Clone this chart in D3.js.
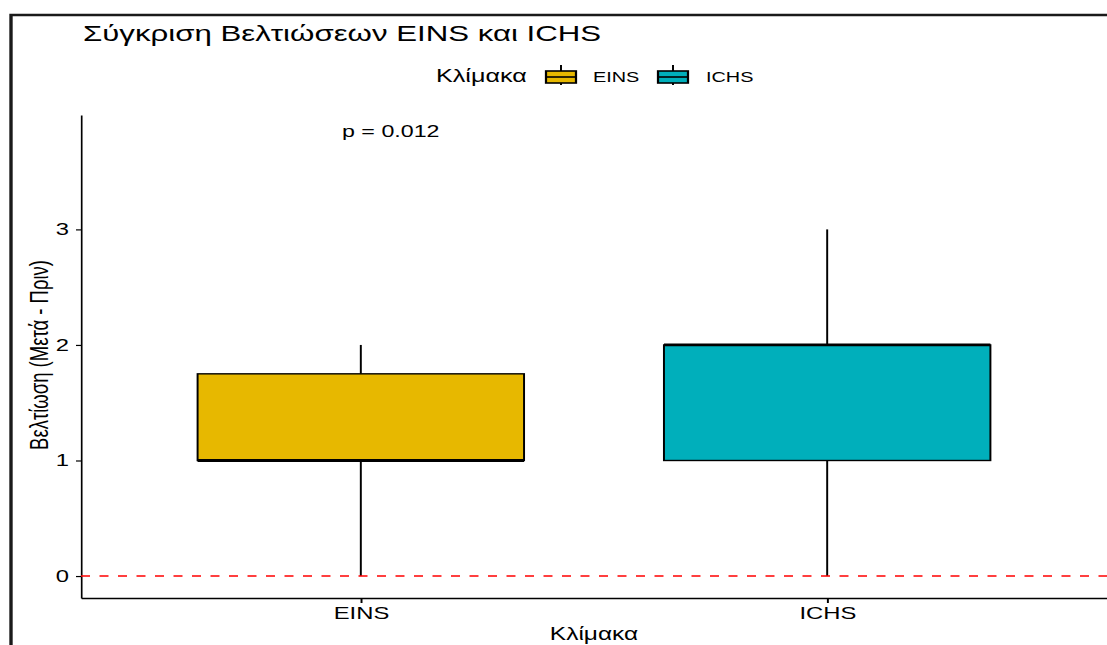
<!DOCTYPE html>
<html>
<head>
<meta charset="utf-8">
<script src="https://cdn.jsdelivr.net/npm/d3@7"></script>
<style>
  html, body { margin: 0; padding: 0; background: #fff; }
  svg { display: block; }
  text { font-family: "Liberation Sans", Arial, sans-serif; fill: #000; }
</style>
</head>
<body>
<div id="chart"></div>
<script>
// ---- data ----
const categories = ["EINS", "ICHS"];
const whiskerLow = [0, 0];
const q1 = [1, 1];
const median = [1, 2];
const q3 = [1.75, 2];
const whiskerHigh = [2, 3];
const fillColors = ["#E7B800", "#00AFBB"];
const yTicks = [0, 1, 2, 3];
const refLineValue = 0;
const pLabel = "p = 0.012";
const pLabelY = 3.85;
const titleText = "Σύγκριση Βελτιώσεων EINS και ICHS";
const legendTitle = "Κλίμακα";
const xTitle = "Κλίμακα";
const yTitle = "Βελτίωση (Μετά - Πριν)";

// ---- layout ----
const W = 1107, H = 645;
const s = 1.4; // horizontal stretch of the whole picture
const px = v => v / s; // pixel x -> unstretched units
const font = '"Liberation Sans", Arial, sans-serif';

const svg = d3.select("#chart").append("svg").attr("width", W).attr("height", H);
const g = svg.append("g").attr("transform", `scale(${s},1)`);

// frame
g.append("path")
  .attr("d", `M${px(11)},${H + 5} L${px(11)},15 L${px(W + 5)},15`)
  .attr("fill", "none").attr("stroke", "#1a1a1a").attr("stroke-width", 2.4);

const x = d3.scaleLinear().domain([0.4, 2.6]).range([px(81), px(1107)]);
const y = d3.scaleLinear().domain([-0.19, 3.99]).range([598, 115]);

// axes
const yAxis = g.append("g").attr("transform", `translate(${px(81)},0)`)
  .call(d3.axisLeft(y).tickValues(yTicks).tickFormat(d3.format("d"))
    .tickSize(px(5)).tickPadding(px(7)).tickSizeOuter(0));
yAxis.selectAll("path,line").attr("stroke", "#000").attr("stroke-width", 1.2);
yAxis.selectAll("text").attr("font-family", font).attr("font-size", 17).attr("fill", "#1a1a1a");

const xAxis = g.append("g").attr("transform", `translate(0,598)`)
  .call(d3.axisBottom(x).tickValues([1, 2]).tickFormat(d => categories[d - 1])
    .tickSize(5).tickPadding(4).tickSizeOuter(0));
xAxis.selectAll("path,line").attr("stroke", "#000").attr("stroke-width", 1.4);
xAxis.selectAll("text").attr("font-family", font).attr("font-size", 17).attr("fill", "#1a1a1a");

// boxes
const idx = categories.map((c, i) => i);
const bw = 0.35;
const boxes = g.append("g");
boxes.selectAll("line.wh").data(idx).join("line").attr("class", "wh")
  .attr("x1", i => x(i + 1)).attr("x2", i => x(i + 1))
  .attr("y1", i => y(whiskerLow[i])).attr("y2", i => y(q1[i]))
  .attr("stroke", "#000").attr("stroke-width", 1.4);
boxes.selectAll("line.wh2").data(idx).join("line").attr("class", "wh2")
  .attr("x1", i => x(i + 1)).attr("x2", i => x(i + 1))
  .attr("y1", i => y(q3[i])).attr("y2", i => y(whiskerHigh[i]))
  .attr("stroke", "#000").attr("stroke-width", 1.4);
boxes.selectAll("rect").data(idx).join("rect")
  .attr("x", i => x(i + 1 - bw)).attr("width", i => x(i + 1 + bw) - x(i + 1 - bw))
  .attr("y", i => y(q3[i])).attr("height", i => y(q1[i]) - y(q3[i]))
  .attr("fill", i => fillColors[i]).attr("stroke", "#000").attr("stroke-width", 1.4);
boxes.selectAll("line.med").data(idx).join("line").attr("class", "med")
  .attr("x1", i => x(i + 1 - bw)).attr("x2", i => x(i + 1 + bw))
  .attr("y1", i => y(median[i])).attr("y2", i => y(median[i]))
  .attr("stroke", "#000").attr("stroke-width", 2.8);

// reference line
g.append("line")
  .attr("x1", x(0.4)).attr("x2", x(2.6))
  .attr("y1", y(refLineValue)).attr("y2", y(refLineValue))
  .attr("stroke", "#ff0000").attr("stroke-width", 1.4)
  .attr("stroke-dasharray", `${px(9)},${px(9.5)}`);

// p label
g.append("text").attr("x", px(342)).attr("y", y(pLabelY) + 6)
  .attr("font-size", 16.6).attr("fill", "#1a1a1a").text(pLabel);

// title
g.append("text").attr("x", px(83)).attr("y", 41)
  .attr("font-size", 22.3).attr("fill", "#111").text(titleText);

// axis titles
g.append("text").attr("x", px(594)).attr("y", 640).attr("text-anchor", "middle")
  .attr("font-size", 17.5).attr("fill", "#1a1a1a").text(xTitle);
g.append("text")
  .attr("transform", `translate(${px(48)},355) rotate(-90)`)
  .attr("text-anchor", "middle").attr("font-size", 18.5).attr("fill", "#1a1a1a").text(yTitle);

// legend
const leg = g.append("g");
leg.append("text").attr("x", px(436)).attr("y", 82).attr("font-size", 18).attr("fill", "#111").text(legendTitle);
const keyX = [546, 658];
const labX = [593, 706];
idx.forEach(i => {
  const kx0 = px(keyX[i]), kx1 = px(keyX[i] + 30), kc = (kx0 + kx1) / 2;
  leg.append("line").attr("x1", kc).attr("x2", kc).attr("y1", 65).attr("y2", 85)
    .attr("stroke", "#000").attr("stroke-width", 1.4);
  leg.append("rect").attr("x", kx0).attr("y", 71).attr("width", kx1 - kx0).attr("height", 12)
    .attr("fill", fillColors[i]).attr("stroke", "#000").attr("stroke-width", 1.6);
  leg.append("line").attr("x1", kx0).attr("x2", kx1).attr("y1", 77).attr("y2", 77)
    .attr("stroke", "#000").attr("stroke-width", 1.6);
  leg.append("text").attr("x", px(labX[i])).attr("y", 82).attr("font-size", 14.2)
    .attr("fill", "#222").text(categories[i]);
});
</script>
</body>
</html>
